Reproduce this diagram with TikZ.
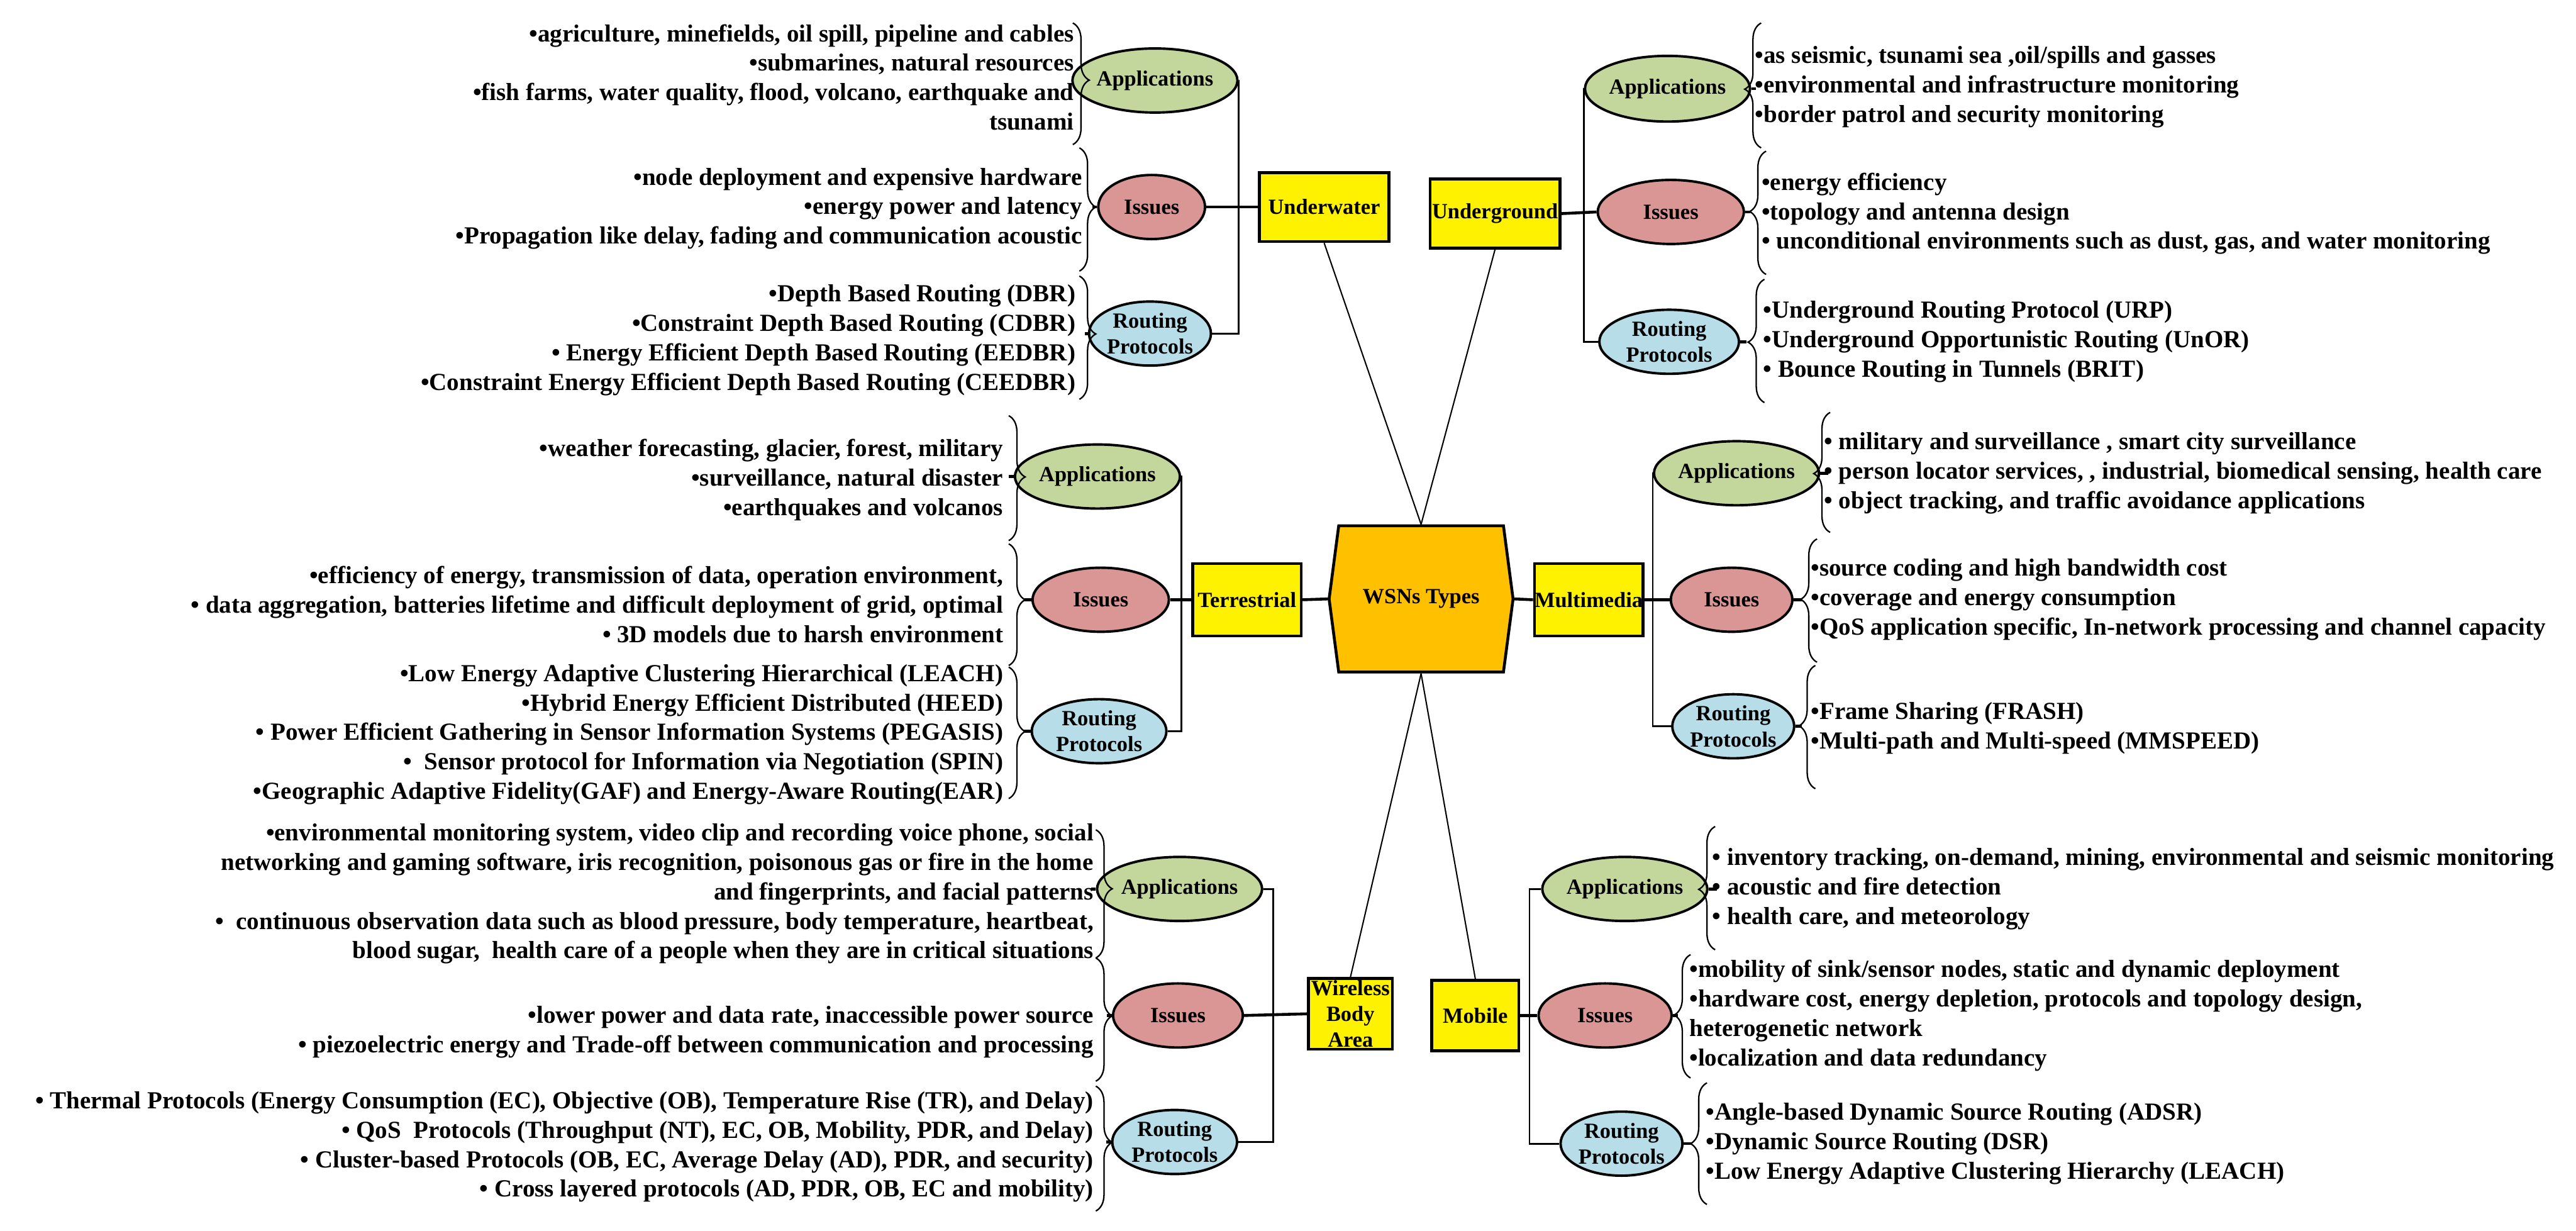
\documentclass[tikz,border=0pt]{standalone}
\usepackage{fontspec}
\setmainfont{Liberation Serif}
\usetikzlibrary{shapes.geometric,shapes.symbols,decorations.pathreplacing}

\definecolor{appgreen}{HTML}{C3D69B}
\definecolor{issred}{HTML}{D99694}
\definecolor{rtblue}{HTML}{B7DEE8}
\definecolor{hubgold}{HTML}{FFC000}
\newcommand{\labfont}{\fontsize{7.5}{9}\selectfont\bfseries}
\newcommand{\itemfont}{\fontsize{8.5}{10.2}\selectfont\bfseries}

\tikzset{
  kind/.style={draw,line width=1pt,fill=yellow,inner sep=0,font=\labfont,align=center},
  hub/.style={signal,signal to=east and west,signal pointer angle=165,draw,line width=1pt,
    fill=hubgold,minimum width=2.24cm,minimum height=1.78cm,inner sep=0,font=\labfont},
  oval/.style={ellipse,draw,line width=0.85pt,inner sep=0,minimum height=0.78cm,font=\labfont,align=center},
  apps/.style={oval,fill=appgreen,minimum width=1.66cm},
  issue/.style={oval,fill=issred},
  route/.style={oval,fill=rtblue},
  items/.style={inner sep=0,font=\itemfont},
  curly/.style={decorate,decoration={brace,amplitude=0.2cm},line width=0.5pt},
  link/.style={line width=1pt},
  bus/.style={line width=0.6pt},
  spoke/.style={line width=0.45pt}
}

\begin{document}
\begin{tikzpicture}[x=0.02cm,y=-0.02cm]
  \useasboundingbox (0,0) rectangle (1568,749);
  % centre
  \node[hub] (wsn) at (865,364.5) {WSNs Types};
  % the six kinds
  \node[kind,minimum width=1.58cm,minimum height=0.84cm] (uw) at (806,126) {Underwater};
  \node[kind,minimum width=1.58cm,minimum height=0.84cm] (ug) at (910,130) {Underground};
  \node[kind,minimum width=1.32cm,minimum height=0.88cm] (tr) at (759,365) {Terrestrial};
  \node[kind,minimum width=1.32cm,minimum height=0.88cm] (mm) at (967,365) {Multimedia};
  \node[kind,minimum width=1.02cm,minimum height=0.86cm] (wba) at (822,617) {Wireless\\Body\\Area};
  \node[kind,minimum width=1.06cm,minimum height=0.86cm] (mob) at (898,618) {Mobile};
  \draw[spoke] (wsn.north) -- (uw.south);
  \draw[spoke] (wsn.north) -- (ug.south);
  \draw[spoke] (wsn.south) -- (wba.north);
  \draw[spoke] (wsn.south) -- (mob.north);
  \draw[link] (wsn.west) -- (tr.east);
  \draw[link] (wsn.east) -- (mm.west);

  % Underwater
  \node[apps] (uwA) at (703,49) {Applications};
  \node[issue,minimum width=1.3cm] (uwI) at (701,126) {Issues};
  \node[route,minimum width=1.3cm] (uwR) at (700,203) {Routing\\Protocols};
  \coordinate (uwBus) at (754,0);
  \draw[bus] (uwA.east) -- (uwA.east -| uwBus) -- (uwR.east -| uwBus) -- (uwR.east);
  \draw[link] (uwI.east) -- (uw.west);
  \draw[curly,decoration={aspect=0.47}] (653,14) -- (653,88);
  \draw[curly,decoration={aspect=0.48}] (657,90) -- (657,165);
  \draw[curly,decoration={aspect=0.47}] (657,168) -- (657,243);
  \draw[link] (uwI.west) -- ++(-3,0);
  \draw[link] (uwR.west) -- ++(-2,0);
  \node[items,anchor=east,align=right] (uwAt) at (654,47) {%
    •agriculture, minefields, oil spill, pipeline and cables\\
    •submarines, natural resources\\
    •fish farms, water quality, flood, volcano, earthquake and\\
    tsunami};
  \node[items,anchor=east,align=right] (uwIt) at (659,127) {%
    •node deployment and expensive hardware\\
    •energy power and latency\\
    •Propagation like delay, fading and communication acoustic};
  \node[items,anchor=east,align=right] (uwRt) at (655,207) {%
    •Depth Based Routing (DBR)\\
    •Constraint Depth Based Routing (CDBR)\\
    • Energy Efficient Depth Based Routing (EEDBR)\\
    •Constraint Energy Efficient Depth Based Routing (CEEDBR)};

  % Underground
  \node[apps,minimum width=1.76cm,minimum height=0.8cm] (ugA) at (1015,54) {Applications};
  \node[issue,minimum width=1.78cm] (ugI) at (1017,129) {Issues};
  \node[route,minimum width=1.7cm] (ugR) at (1016,208) {Routing\\Protocols};
  \coordinate (ugBus) at (964,0);
  \draw[bus] (ugA.west) -- (ugA.west -| ugBus) -- (ugR.west -| ugBus) -- (ugR.west);
  \draw[link] (ug.east) -- (ugI.west);
  \draw[curly,decoration={aspect=0.47}] (1072,90) -- (1072,14);
  \draw[curly,decoration={aspect=0.51}] (1075,167) -- (1075,92);
  \draw[curly,decoration={aspect=0.49}] (1074,245) -- (1074,170);
  \draw[link] (ugA.east) -- ++(3,0);
  \draw[link] (ugI.east) -- ++(3,0);
  \draw[link] (ugR.east) -- ++(4,0);
  \node[items,anchor=west,align=left] (ugAt) at (1068,53) {%
    •as seismic, tsunami sea ,oil/spills and gasses\\
    •environmental and infrastructure monitoring\\
    •border patrol and security monitoring};
  \node[items,anchor=west,align=left] (ugIt) at (1072,130) {%
    •energy efficiency\\
    •topology and antenna design\\
    • unconditional environments such as dust, gas, and water monitoring};
  \node[items,anchor=west,align=left] (ugRt) at (1073,208) {%
    •Underground Routing Protocol (URP)\\
    •Underground Opportunistic Routing (UnOR)\\
    • Bounce Routing in Tunnels (BRIT)};

  % Terrestrial
  \node[apps] (trA) at (668,290) {Applications};
  \node[issue,minimum width=1.66cm] (trI) at (670,365) {Issues};
  \node[route,minimum width=1.64cm] (trR) at (669,445) {Routing\\Protocols};
  \coordinate (trBus) at (719,0);
  \draw[bus] (trA.east) -- (trA.east -| trBus) -- (trR.east -| trBus) -- (trR.east);
  \draw[link] (trI.east) -- (tr.west);
  \draw[curly,decoration={aspect=0.49}] (614,253) -- (614,329);
  \draw[curly,decoration={aspect=0.46}] (614,331) -- (614,405);
  \draw[curly,decoration={aspect=0.49}] (614,406) -- (614,486);
  \draw[link] (trA.west) -- ++(-3,0);
  \draw[link] (trI.west) -- ++(-4,0);
  \draw[link] (trR.west) -- ++(-4,0);
  \node[items,anchor=east,align=right] (trAt) at (611,292) {%
    •weather forecasting, glacier, forest, military\\
    •surveillance, natural disaster\\
    •earthquakes and volcanos};
  \node[items,anchor=east,align=right] (trIt) at (611,368) {%
    •efficiency of energy, transmission of data, operation environment,\\
    • data aggregation, batteries lifetime and difficult deployment of grid, optimal\\
    • 3D models due to harsh environment};
  \node[items,anchor=east,align=right] (trRt) at (611,447) {%
    •Low Energy Adaptive Clustering Hierarchical (LEACH)\\
    •Hybrid Energy Efficient Distributed (HEED)\\
    • Power Efficient Gathering in Sensor Information Systems (PEGASIS)\\
    •\enspace Sensor protocol for Information via Negotiation (SPIN)\\
    •Geographic Adaptive Fidelity(GAF) and Energy-Aware Routing(EAR)};

  % Multimedia
  \node[apps,minimum width=1.64cm] (mmA) at (1057,288) {Applications};
  \node[issue,minimum width=1.48cm] (mmI) at (1054,365) {Issues};
  \node[route,minimum width=1.44cm] (mmR) at (1055,442) {Routing\\Protocols};
  \coordinate (mmBus) at (1006,0);
  \draw[bus] (mmA.west) -- (mmA.west -| mmBus) -- (mmR.west -| mmBus) -- (mmR.west);
  \draw[link] (mm.east) -- (mmI.west);
  \draw[curly,decoration={aspect=0.49}] (1114,324) -- (1114,251);
  \draw[curly,decoration={aspect=0.51}] (1106,403) -- (1106,328);
  \draw[curly,decoration={aspect=0.51}] (1105,480) -- (1105,405);
  \draw[link] (mmA.east) -- ++(5,0);
  \draw[link] (mmI.east) -- ++(5,0);
  \draw[link] (mmR.east) -- ++(4,0);
  \node[items,anchor=west,align=left] (mmAt) at (1110,288) {%
    • military and surveillance , smart city surveillance\\
    • person locator services, , industrial, biomedical sensing, health care\\
    • object tracking, and traffic avoidance applications};
  \node[items,anchor=west,align=left] (mmIt) at (1102,365) {%
    •source coding and high bandwidth cost\\
    •coverage and energy consumption\\
    •QoS application specific, In-network processing and channel capacity};
  \node[items,anchor=west,align=left] (mmRt) at (1102,443) {%
    •Frame Sharing (FRASH)\\
    •Multi-path and Multi-speed (MMSPEED)};

  % Wireless Body Area
  \node[apps,minimum width=1.64cm] (wbaA) at (718,541) {Applications};
  \node[issue,minimum width=1.58cm] (wbaI) at (717,618) {Issues};
  \node[route,minimum width=1.52cm] (wbaR) at (715,695) {Routing\\Protocols};
  \coordinate (wbaBus) at (775,0);
  \draw[bus] (wbaA.east) -- (wbaA.east -| wbaBus) -- (wbaR.east -| wbaBus) -- (wbaR.east);
  \draw[link] (wbaI.east) -- (wba.west);
  \draw[curly,decoration={aspect=0.46}] (667,505) -- (667,583);
  \draw[curly,decoration={aspect=0.47}] (667,583) -- (667,658);
  \draw[curly,decoration={aspect=0.45}] (667,661) -- (667,737);
  \draw[link] (wbaA.west) -- ++(-3,0);
  \draw[link] (wbaI.west) -- ++(-3,0);
  \draw[link] (wbaR.west) -- ++(-3,0);
  \node[items,anchor=east,align=right] (wbaAt) at (666,544) {%
    •environmental monitoring system, video clip and recording voice phone, social\\
    networking and gaming software, iris recognition, poisonous gas or fire in the home\\
    and fingerprints, and facial patterns\\
    •\ \ continuous observation data such as blood pressure, body temperature, heartbeat,\\
    blood sugar,\ \ health care of a people when they are in critical situations};
  \node[items,anchor=east,align=right] (wbaIt) at (666,628) {%
    •lower power and data rate, inaccessible power source\\
    • piezoelectric energy and Trade-off between communication and processing};
  \node[items,anchor=east,align=right] (wbaRt) at (666,698) {%
    • Thermal Protocols (Energy Consumption (EC), Objective (OB), Temperature Rise (TR), and Delay)\\
    • QoS\ \ Protocols (Throughput (NT), EC, OB, Mobility, PDR, and Delay)\\
    • Cluster-based Protocols (OB, EC, Average Delay (AD), PDR, and security)\\
    • Cross layered protocols (AD, PDR, OB, EC and mobility)};

  % Mobile
  \node[apps,minimum width=1.64cm] (mobA) at (989,541) {Applications};
  \node[issue,minimum width=1.62cm] (mobI) at (977,618) {Issues};
  \node[route,minimum width=1.48cm] (mobR) at (987,696) {Routing\\Protocols};
  \coordinate (mobBus) at (931,0);
  \draw[bus] (mobA.west) -- (mobA.west -| mobBus) -- (mobR.west -| mobBus) -- (mobR.west);
  \draw[link] (mob.east) -- (mobI.west);
  \draw[curly,decoration={aspect=0.49}] (1044,578) -- (1044,503);
  \draw[curly,decoration={aspect=0.51}] (1029,656) -- (1029,581);
  \draw[curly,decoration={aspect=0.5}] (1039,733) -- (1039,659);
  \draw[link] (mobA.east) -- ++(5,0);
  \draw[link] (mobI.east) -- ++(3,0);
  \draw[link] (mobR.east) -- ++(5,0);
  \node[items,anchor=west,align=left] (mobAt) at (1042,541) {%
    • inventory tracking, on-demand, mining, environmental and seismic monitoring\\
    • acoustic and fire detection\\
    • health care, and meteorology};
  \node[items,anchor=west,align=left] (mobIt) at (1028,618) {%
    •mobility of sink/sensor nodes, static and dynamic deployment\\
    •hardware cost, energy depletion, protocols and topology design,\\
    heterogenetic network\\
    •localization and data redundancy};
  \node[items,anchor=west,align=left] (mobRt) at (1038,696) {%
    •Angle-based Dynamic Source Routing (ADSR)\\
    •Dynamic Source Routing (DSR)\\
    •Low Energy Adaptive Clustering Hierarchy (LEACH)};
\end{tikzpicture}
\end{document}
